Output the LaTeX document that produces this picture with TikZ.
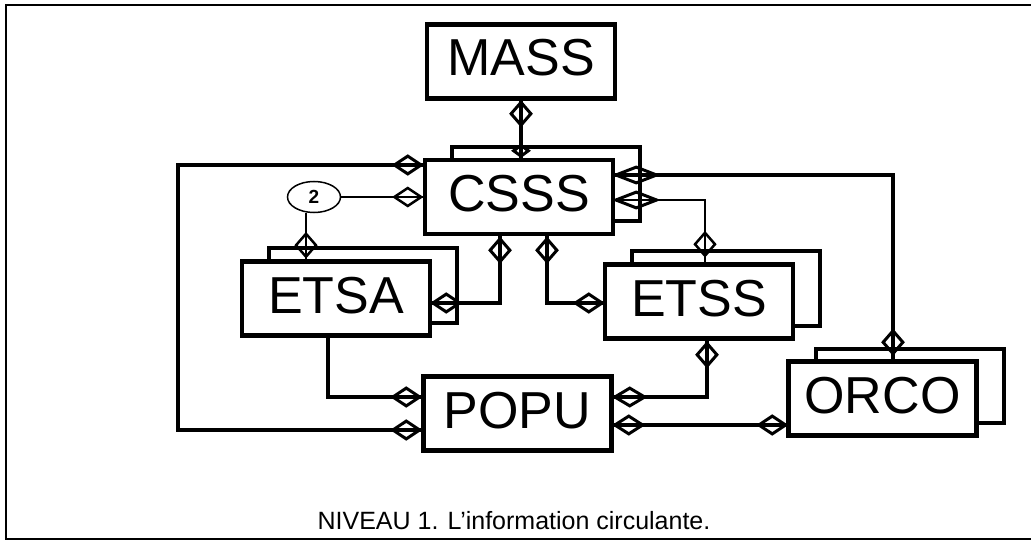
\documentclass[tikz,border=0pt]{standalone}
\usepackage{fontspec}
\setmainfont{Liberation Sans}
\usetikzlibrary{shapes.geometric,shadows,calc}
\begin{document}
\begin{tikzpicture}[x=1pt,y=-1pt,
  box/.style={draw, line width=4.5pt, fill=white, minimum width=188pt, minimum height=74pt,
    inner sep=0pt, text height=37pt, text depth=8pt, font=\fontsize{52}{52}\selectfont},
  stack/.style={general shadow={shadow xshift=27pt, shadow yshift=13pt, draw=black, line width=4pt, fill=white}},
  thickline/.style={line width=4pt},
  thinline/.style={line width=1.5pt},
  dh/.style={diamond, draw, line width=3pt, minimum width=28pt, minimum height=19pt, inner sep=0pt},
  dv/.style={diamond, draw, line width=3pt, minimum width=21pt, minimum height=24pt, inner sep=0pt},
  dw/.style={diamond, draw, line width=3pt, minimum width=42pt, minimum height=17pt, inner sep=0pt},
]
\useasboundingbox (0,0) rectangle (1031,540);
% frame
\draw[line width=2pt] (1031,5) -- (6,5) -- (6,539) -- (1031,539);

% boxes
\node[box] (MASS) at (521,61.5) {MASS};
\node[box,stack] (CSSS) at (519,197) {CSSS};
\node[box,stack] (ETSA) at (336,298.5) {ETSA};
\node[box,stack] (ETSS) at (699,301.5) {ETSS};
\node[box] (POPU) at (517.5,413.5) {POPU};
\node[box,stack] (ORCO) at (882.5,398.5) {ORCO};
\node[draw, ellipse, thinline, fill=white, minimum width=53pt, minimum height=31pt, inner sep=0pt,
  font=\bfseries\fontsize{19}{19}\selectfont] (two) at (314,197) {2};

% MASS - CSSS
\draw[thickline] (MASS.south) -- (MASS.south |- CSSS.north);
\node[dv] (dm1) at ($(MASS.south)+(0,13)$) {};
\node[dv, minimum width=16pt, minimum height=12pt] (dm2) at ($(MASS.south |- CSSS.north)+(0,-7)$) {};

% left bus CSSS - POPU
\coordinate (lb1) at (178,165);
\coordinate (lb2) at (178,430);
\draw[thickline] (CSSS.west |- lb1) -- (lb1) -- (lb2) -- (POPU.west |- lb2);
\node[dh] (dl1) at ($(CSSS.west |- lb1)+(-15,0)$) {};
\node[dh] (dl2) at ($(POPU.west |- lb2)+(-15,0)$) {};

% ellipse 2
\draw[thinline] (two.east) -- (CSSS.west |- two.east);
\node[dh, line width=2.5pt] (de1) at ($(CSSS.west |- two.east)+(-15,0)$) {};
\coordinate (e2) at ([xshift=-8pt]two.south);
\draw[thinline] (e2) -- (e2 |- ETSA.north);
\node[dv, line width=2.5pt] (de2) at ($(e2 |- ETSA.north)+(0,-14)$) {};

% ETSA - CSSS
\coordinate (c1) at (500,303);
\draw[thickline] (ETSA.east |- c1) -- (c1) -- (c1 |- CSSS.south);
\node[dh] (da1) at ($(ETSA.east |- c1)+(14,0)$) {};
\node[dv] (da2) at ($(c1 |- CSSS.south)+(0,14)$) {};

% CSSS - ETSS
\coordinate (c2) at (547,303);
\draw[thickline] (c2 |- CSSS.south) -- (c2) -- (ETSS.west |- c2);
\node[dv] (db1) at ($(c2 |- CSSS.south)+(0,14)$) {};
\node[dh] (db2) at ($(ETSS.west |- c2)+(-14,0)$) {};

% CSSS - ORCO
\coordinate (c3) at (893,175);
\draw[thickline] (CSSS.east |- c3) -- (c3) -- (c3 |- ORCO.north);
\node[dw] (dc1) at ($(CSSS.east |- c3)+(21,0)$) {};
\node[dv] (dc2) at ($(c3 |- ORCO.north)+(0,-17)$) {};

% CSSS - ETSS (thin)
\coordinate (c4) at (705,200);
\draw[thinline] (CSSS.east |- c4) -- (c4) -- (c4 |- ETSS.north);
\node[dw] (dd1) at ($(CSSS.east |- c4)+(21,0)$) {};
\node[dv, line width=2.5pt] (dd2) at ($(c4 |- ETSS.north)+(0,-18)$) {};

% ETSA - POPU
\coordinate (c5) at (328,397);
\draw[thickline] (c5 |- ETSA.south) -- (c5) -- (POPU.west |- c5);
\node[dh] (df1) at ($(POPU.west |- c5)+(-15,0)$) {};

% POPU - ETSS
\coordinate (c6) at (707,397);
\draw[thickline] (POPU.east |- c6) -- (c6) -- (c6 |- ETSS.south);
\node[dh, minimum width=31pt] (dg1) at ($(POPU.east |- c6)+(16,0)$) {};
\node[dv] (dg2) at ($(c6 |- ETSS.south)+(0,14)$) {};

% POPU - ORCO
\coordinate (c7) at (0,425);
\draw[thickline] (POPU.east |- c7) -- (ORCO.west |- c7);
\node[dh, minimum width=29pt] (dh1) at ($(POPU.east |- c7)+(15,0)$) {};
\node[dh] (dh2) at ($(ORCO.west |- c7)+(-14,0)$) {};

% caption
\node[font=\fontsize{25}{25}\selectfont] (cap) at (514,521) {NIVEAU 1. L’information circulante.};
\end{tikzpicture}
\end{document}
